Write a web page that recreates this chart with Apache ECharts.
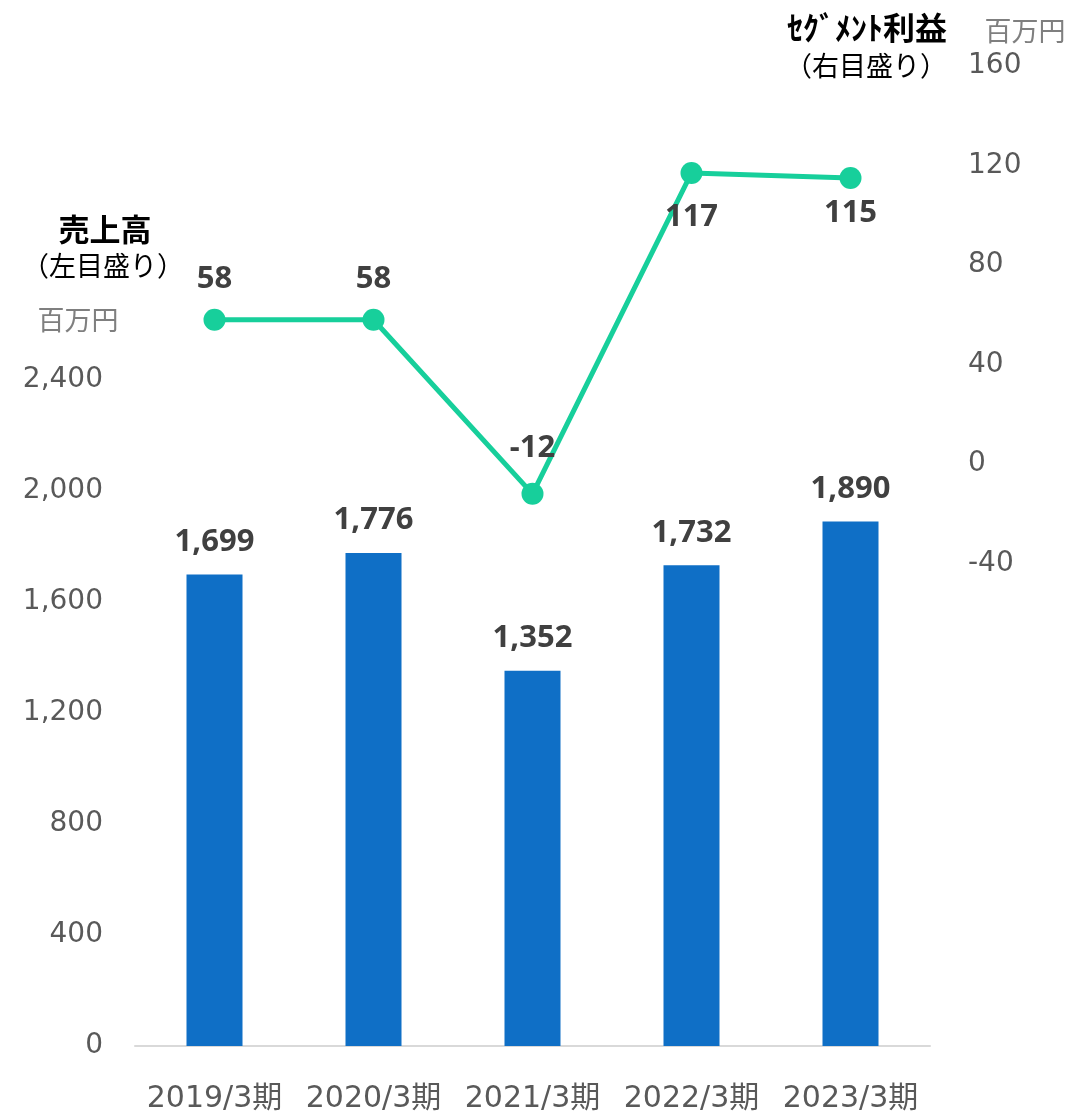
<!DOCTYPE html>
<html><head><meta charset="utf-8">
<script src="https://cdn.jsdelivr.net/npm/echarts@6/dist/echarts.min.js"></script>
<style>html,body{margin:0;padding:0;background:#fff}#c{width:1071px;height:1114px}</style>
</head><body><div id="c"></div>
<script>
const categories = ['2019/3期','2020/3期','2021/3期','2022/3期','2023/3期'];
const sales = [1699, 1776, 1352, 1732, 1890];
const profit = [58, 58, -12, 117, 115];
const leftTicks = [0, 400, 800, 1200, 1600, 2000, 2400];
const rightTicks = [-40, 0, 40, 80, 120, 160];
const profitLabelPos = ['top','top','top','bottom','bottom'];
const profitLabelDist = [14, 14, 19, 18, 9];

const font = '"Noto Sans", "Noto Sans CJK JP", sans-serif';
const axisFont = '"DejaVu Sans", "Noto Sans CJK JP", sans-serif';
const chart = echarts.init(document.getElementById('c'));
chart.setOption({
  animation: false,
  textStyle: {fontFamily: font},
  grid: {left: 135, right: 141, top: 66, bottom: 68, containLabel: false},
  xAxis: {
    type: 'category', data: categories,
    axisLine: {lineStyle: {color: '#d9d9d9', width: 2}},
    axisTick: {show: false},
    axisLabel: {color: '#595959', fontSize: 30, margin: 38, fontFamily: axisFont, interval: 0, hideOverlap: false}
  },
  yAxis: [{
    type: 'value', min: 0, max: 3531,
    splitLine: {show: false}, axisLine: {show: false}, axisTick: {show: false},
    axisLabel: {color: '#595959', fontSize: 28, margin: 32, customValues: leftTicks, fontFamily: axisFont,
      formatter: v => v.toLocaleString('en-US')}
  }, {
    type: 'value', min: -234, max: 160,
    splitLine: {show: false}, axisLine: {show: false}, axisTick: {show: false},
    axisLabel: {color: '#595959', fontSize: 28, margin: 38, customValues: rightTicks, fontFamily: axisFont}
  }],
  series: [{
    type: 'bar', data: sales, yAxisIndex: 0, barWidth: 56,
    itemStyle: {color: '#0f6fc6'},
    label: {show: true, position: 'top', distance: 17, color: '#404040', fontSize: 31, fontWeight: 'bold',
      formatter: p => p.value.toLocaleString('en-US')}
  }, {
    type: 'line', yAxisIndex: 1, z: 5,
    data: profit.map((v, i) => ({value: v, label: {position: profitLabelPos[i], distance: profitLabelDist[i]}})),
    symbol: 'circle', symbolSize: 22,
    lineStyle: {color: '#17cf9b', width: 5},
    itemStyle: {color: '#17cf9b'},
    label: {show: true, color: '#404040', fontSize: 31, fontWeight: 'bold'}
  }],
  graphic: [
    {type: 'text', style: {text: '売上高', x: 105, y: 232, align: 'center', verticalAlign: 'middle', fill: '#000', font: 'bold 31px ' + font}},
    {type: 'text', style: {text: '（左目盛り）', x: 103, y: 268, align: 'center', verticalAlign: 'middle', fill: '#000', font: '27px ' + font}},
    {type: 'text', style: {text: '百万円', x: 78, y: 322, align: 'center', verticalAlign: 'middle', fill: '#7f7f7f', font: '27px ' + font}},
    {type: 'text', style: {text: 'ｾｸﾞﾒﾝﾄ利益', x: 867, y: 31, align: 'center', verticalAlign: 'middle', fill: '#000', font: 'bold 32px ' + font}},
    {type: 'text', style: {text: '（右目盛り）', x: 866, y: 68, align: 'center', verticalAlign: 'middle', fill: '#000', font: '27px ' + font}},
    {type: 'text', style: {text: '百万円', x: 1025, y: 33, align: 'center', verticalAlign: 'middle', fill: '#7f7f7f', font: '27px ' + font}}
  ]
});
</script></body></html>
